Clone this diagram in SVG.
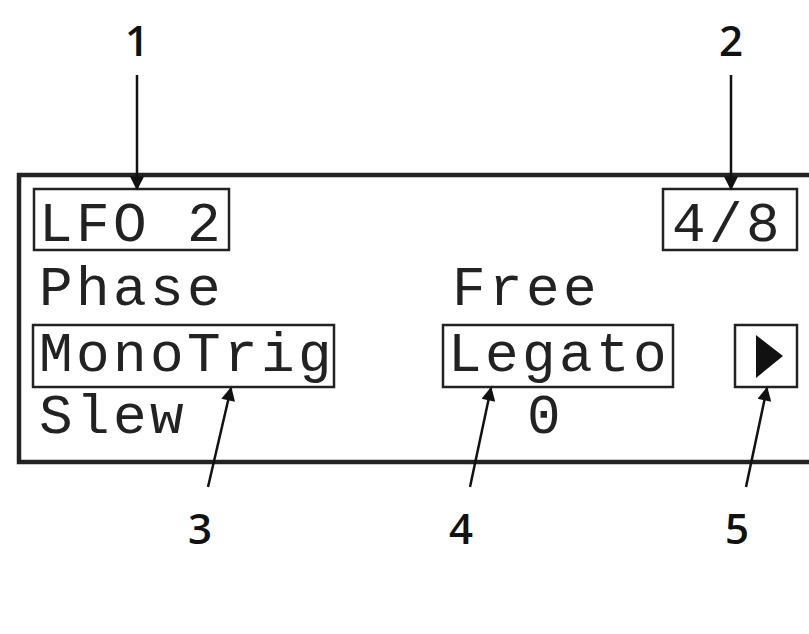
<svg xmlns="http://www.w3.org/2000/svg" width="809" height="634" viewBox="0 0 809 634">
<style>
.lcd{font-family:"Liberation Mono","DejaVu Sans Mono",monospace;font-size:56px;letter-spacing:3.4px;fill:#222}
.box{fill:none;stroke:#222;stroke-width:2.5}
.num{font-family:"Open Sans","Liberation Sans",sans-serif;font-size:42px;font-weight:600;fill:#111;text-anchor:middle}
.con line{stroke:#111;stroke-width:2.5}
</style>
<defs><marker id="ah" viewBox="0 0 10 10" refX="9" refY="5" markerWidth="16" markerHeight="14" orient="auto" markerUnits="userSpaceOnUse"><path d="M0,0 L10,5 L0,10 z" fill="#111"/></marker></defs>
<rect width="809" height="634" fill="#fff"/>
<rect x="19" y="175" width="800" height="287" fill="none" stroke="#222" stroke-width="4.5"/>
<g id="lfo"><rect class="box" x="34" y="189" width="195" height="61"/><text class="lcd" x="39" y="241">LFO 2</text></g>
<g id="page"><rect class="box" x="663" y="189" width="134" height="61"/><text class="lcd" x="672" y="241">4/8</text></g>
<g id="phase"><text class="lcd" x="39" y="305">Phase</text></g>
<g id="free"><text class="lcd" x="452" y="305">Free</text></g>
<g id="mono"><rect class="box" x="33" y="325" width="301" height="62"/><text class="lcd" x="39" y="371">MonoTrig</text></g>
<g id="legato"><rect class="box" x="443" y="325" width="230" height="62"/><text class="lcd" x="448" y="371">Legato</text></g>
<g id="next"><rect class="box" x="735" y="325" width="62" height="62"/><path d="M756,335 L783,356 L756,378 z" fill="#111"/></g>
<g id="slew"><text class="lcd" x="39" y="433">Slew</text></g>
<g id="zero"><text class="lcd" x="527" y="433">0</text></g>
<g class="con">
<line x1="137" y1="75" x2="137" y2="189" marker-end="url(#ah)"/>
<line x1="731" y1="75" x2="731" y2="189" marker-end="url(#ah)"/>
<line x1="208" y1="487" x2="231" y2="388" marker-end="url(#ah)"/>
<line x1="470" y1="487" x2="491" y2="388" marker-end="url(#ah)"/>
<line x1="746" y1="487" x2="767" y2="388" marker-end="url(#ah)"/>
</g>
<text class="num" x="137" y="56">1</text>
<text class="num" x="731" y="56">2</text>
<text class="num" x="200" y="544">3</text>
<text class="num" x="461" y="544">4</text>
<text class="num" x="737" y="544">5</text>
</svg>
